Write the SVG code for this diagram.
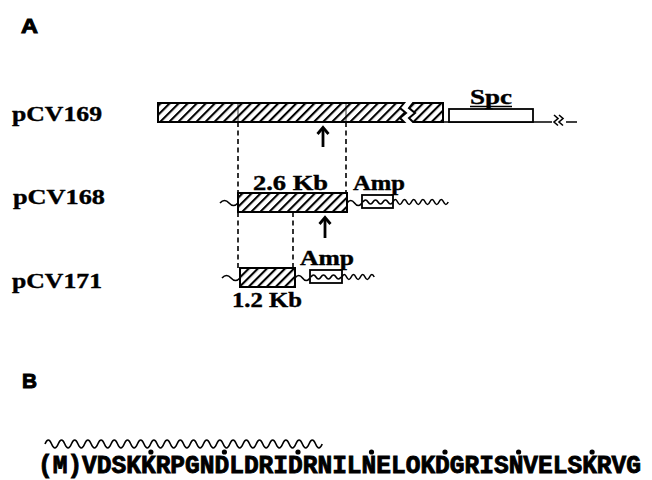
<svg xmlns="http://www.w3.org/2000/svg" width="652" height="480" viewBox="0 0 652 480">
<defs>
<pattern id="hatch" patternUnits="userSpaceOnUse" width="6.4" height="6.4" patternTransform="rotate(45)">
<rect x="0" y="0" width="2.1" height="6.4" fill="#000"/>
</pattern>
</defs>
<style>
.lbl{font-family:"Liberation Serif",serif;font-weight:bold;fill:#000;stroke:#000;stroke-width:0.4}
.hd{font-family:"Liberation Sans",sans-serif;font-weight:bold;font-size:21px;fill:#000;stroke:#000;stroke-width:1}
.bar{fill:url(#hatch);stroke:#000;stroke-width:2}
.box{fill:#fff;stroke:#000;stroke-width:1.8}
.ln{fill:none;stroke:#000;stroke-width:1.6}
.dash{fill:none;stroke:#000;stroke-width:1.6;stroke-dasharray:5 3.5}
.arr{fill:none;stroke:#000;stroke-width:2.8}
.seq{font-family:"Liberation Mono",monospace;font-weight:bold;font-size:25px;fill:#000;stroke:#000;stroke-width:0.9}
</style>
<rect width="652" height="480" fill="#fff"/>
<text class="hd" x="21" y="33" textLength="17" lengthAdjust="spacingAndGlyphs">A</text>
<text class="hd" x="22" y="388" textLength="15" lengthAdjust="spacingAndGlyphs">B</text>

<g id="pCV169">
<text class="lbl" x="12" y="121" font-size="22" textLength="90" lengthAdjust="spacingAndGlyphs">pCV169</text>
<path class="bar" d="M158,103 H404 L400,108 L406,113 L400,118 L404,122 H158 Z"/>
<path class="bar" d="M413,103 H443 V122 H413 L409,118 L415,113 L409,108 Z"/>
<line x1="238" y1="103" x2="238" y2="122" stroke="#000" stroke-width="0.8"/>
<line x1="346" y1="103" x2="346" y2="122" stroke="#000" stroke-width="0.8"/>
<line class="ln" x1="443" y1="122" x2="577" y2="122"/>
<rect class="box" x="449" y="109" width="84" height="13"/>
<text class="lbl" x="470" y="104" font-size="22" textLength="42" lengthAdjust="spacingAndGlyphs">Spc</text>
<line x1="470" y1="106.5" x2="512" y2="106.5" stroke="#000" stroke-width="1.4"/>
<rect x="552" y="116" width="14" height="10" fill="#fff"/>
<path class="ln" d="M554,115 L558,118.5 L554,122 L558,125.5 M559,115 L563,118.5 L559,122 L563,125.5"/>
</g>

<g id="pCV168">
<text class="lbl" x="13" y="204" font-size="22" textLength="92" lengthAdjust="spacingAndGlyphs">pCV168</text>
<path class="ln" d="M220,203 q4.5,-5 9,0 t9,0"/>
<rect class="bar" x="238" y="193" width="109" height="19"/>
<path class="ln" d="M347,203 q3.75,-5 7.5,0 t7.5,0"/>
<rect class="box" x="362" y="195" width="31" height="13"/>
<path class="ln" d="M363,202 q2.5,-4 5,0 t5,0 t5,0 t5,0 t5,0 t5,0"/>
<path class="ln" d="M393,202 q2.3,-5 4.6,0 t4.6,0 t4.6,0 t4.6,0 t4.6,0 t4.6,0 t4.6,0 t4.6,0 t4.6,0 t4.6,0 t4.6,0 t4.6,0"/>
<text class="lbl" x="253" y="190" font-size="21" textLength="75" lengthAdjust="spacingAndGlyphs">2.6 Kb</text>
<text class="lbl" x="353" y="190" font-size="21" textLength="52" lengthAdjust="spacingAndGlyphs">Amp</text>
</g>

<g id="pCV171">
<text class="lbl" x="12" y="288" font-size="22" textLength="90" lengthAdjust="spacingAndGlyphs">pCV171</text>
<path class="ln" d="M222,278 q4.5,-5 9,0 t9,0"/>
<rect class="bar" x="240" y="268" width="55" height="19"/>
<path class="ln" d="M295,278 q3.75,-5 7.5,0 t7.5,0"/>
<rect class="box" x="310" y="270" width="32" height="13"/>
<path class="ln" d="M311,277 q2.5,-4 5,0 t5,0 t5,0 t5,0 t5,0 t5,0"/>
<path class="ln" d="M342,277 q2.3,-5 4.6,0 t4.6,0 t4.6,0 t4.6,0 t4.6,0 t4.6,0 t4.6,0"/>
<text class="lbl" x="300" y="265" font-size="21" textLength="54" lengthAdjust="spacingAndGlyphs">Amp</text>
<text class="lbl" x="232" y="307" font-size="21" textLength="70" lengthAdjust="spacingAndGlyphs">1.2 Kb</text>
</g>

<g id="connectors">
<line class="dash" x1="238" y1="122" x2="238" y2="193"/>
<line class="dash" x1="346" y1="122" x2="346" y2="193"/>
<line class="dash" x1="238" y1="212" x2="238" y2="268"/>
<line class="dash" x1="293" y1="212" x2="293" y2="268"/>
<g id="arrow1">
<line class="arr" x1="323" y1="147" x2="323" y2="129"/>
<path class="arr" d="M317.5,134 L323,127.5 L328.5,134"/>
</g>
<g id="arrow2">
<line class="arr" x1="325" y1="238" x2="325" y2="219"/>
<path class="arr" d="M319.5,224 L325,217.5 L330.5,224"/>
</g>
</g>

<g id="sequence">
<path class="ln" stroke-width="2" d="M45,444 q3.3,-8 6.6,0 t6.6,0 t6.6,0 t6.6,0 t6.6,0 t6.6,0 t6.6,0 t6.6,0 t6.6,0 t6.6,0 t6.6,0 t6.6,0 t6.6,0 t6.6,0 t6.6,0 t6.6,0 t6.6,0 t6.6,0 t6.6,0 t6.6,0 t6.6,0 t6.6,0 t6.6,0 t6.6,0 t6.6,0 t6.6,0 t6.6,0 t6.6,0 t6.6,0 t6.6,0 t6.6,0 t6.6,0 t6.6,0 t6.6,0 t6.6,0 t6.6,0 t6.6,0 t6.6,0 t6.6,0 t6.6,0 t6.6,0 t6.6,0"/>
<text class="seq" x="38" y="473" textLength="603" lengthAdjust="spacingAndGlyphs">(M)VDSKKRPGNDLDRIDRNILNELOKDGRISNVELSKRVG</text>
<circle cx="150.9" cy="452" r="2.6"/>
<circle cx="224.4" cy="452" r="2.6"/>
<circle cx="298" cy="452" r="2.6"/>
<circle cx="371.5" cy="452" r="2.6"/>
<circle cx="445" cy="452" r="2.6"/>
<circle cx="518.6" cy="452" r="2.6"/>
<circle cx="592.1" cy="452" r="2.6"/>
</g>
</svg>
